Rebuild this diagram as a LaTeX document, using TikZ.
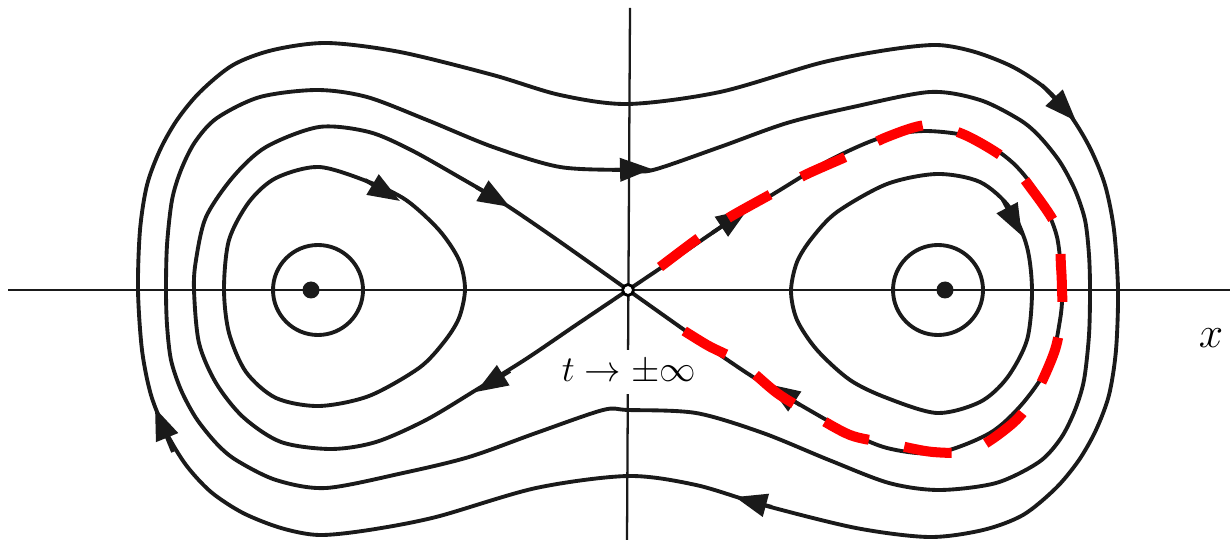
\documentclass[tikz,border=0pt]{standalone}
\usetikzlibrary{arrows.meta}
\begin{document}
\begin{tikzpicture}[x=0.02cm, y=-0.02cm]
    \definecolor{orbitColour}{HTML}{1A1A1A}
    \definecolor{loopColour}{HTML}{FF0000}
    \tikzset{
        orbit/.style={line width=2.2pt, draw=orbitColour},
        flow/.style={orbit, -{Triangle[length=0.64cm, width=0.46cm]}},
        axisline/.style={line width=1.3pt, draw=orbitColour},
        redloop/.style={line width=5.7pt, draw=loopColour, dash pattern=on 0.96cm off 0.72cm}
    }
    \useasboundingbox (0,0) rectangle (1230,540);

    % Draw axes
    \draw[axisline] (8,290) -- (1230,290);
    \draw[axisline] (630,8) -- (627,540);

    % Fixed points
    \coordinate (O) at (628,290);
    \coordinate (L) at (311,290);
    \coordinate (R) at (945,290);

    % Small orbits round the centres
    \draw[orbit] (318,290) circle (45);
    \draw[orbit] (938,290) circle (45);

    % Inner loops
    \draw[orbit] plot[smooth cycle] coordinates {(791,291) (797,262) (812,238) (837,212) (887,184) (937,174) (980,182) (1010,208) (1027,247) (1032,291) (1027,340) (1007,378) (980,402) (937,413) (887,398) (850,380) (817,350) (797,320)};
    \draw[orbit] plot[smooth cycle] coordinates {(465,289) (459,318) (444,342) (419,368) (369,396) (319,406) (276,398) (246,372) (229,333) (224,289) (229,240) (249,202) (276,178) (319,167) (369,182) (406,200) (439,230) (459,260)};

    % Homoclinic orbits
    \draw[orbit] plot[smooth] coordinates {(628,290) (680,255) (730,221) (780,190) (830,160) (880,138) (925,131) (975,138) (1013,163) (1040,197) (1057,237) (1062,290) (1060,320) (1050,363) (1023,403) (990,433) (937,453) (887,448) (845,430) (797,403) (753,377) (700,341) (628,290)};
    \draw[orbit] plot[smooth] coordinates {(628,290) (576,325) (526,359) (476,390) (426,420) (376,442) (331,449) (281,442) (243,417) (216,383) (199,343) (194,290) (196,260) (206,217) (233,177) (266,147) (319,127) (369,132) (411,150) (459,177) (503,203) (556,239) (628,290)};

    % Outer orbits
    \draw[orbit] plot[smooth cycle] coordinates {(166,290) (167,245) (172,200) (181,170) (195,142) (217,118) (260,97) (317,90) (367,97) (427,120) (493,147) (560,167) (628,170) (653,170) (720,147) (787,123) (853,107) (930,92) (980,100) (1020,120) (1040,137) (1060,162) (1075,190) (1085,220) (1089,255) (1090,290) (1089,335) (1084,380) (1075,410) (1061,438) (1039,462) (996,483) (939,490) (889,483) (829,460) (763,433) (696,413) (628,410) (603,410) (536,433) (469,457) (403,473) (326,488) (276,480) (236,460) (216,443) (196,418) (181,390) (171,360) (167,325)};
    \draw[orbit] plot[smooth cycle] coordinates {(138,290) (140,230) (147,185) (160,150) (177,120) (200,92) (233,65) (273,50) (327,43) (400,52) (493,75) (560,95) (628,104) (720,92) (820,63) (887,50) (937,45) (975,52) (1013,67) (1045,88) (1070,115) (1090,148) (1105,185) (1114,230) (1118,290) (1116,350) (1109,395) (1096,430) (1079,460) (1056,488) (1023,515) (983,530) (929,537) (856,528) (763,505) (696,485) (628,476) (536,488) (436,517) (369,530) (319,535) (281,528) (243,513) (211,492) (186,465) (166,432) (151,395) (142,350)};

    % Direction of flow
    \draw[flow] (1042,85) -- (1076,121);
    \draw[flow] (173,452) -- (155,408);
    \draw[flow] (772,507) -- (735,497);
    \draw[flow] (612,170) -- (652,169);
    \draw[flow] (476,187) -- (510,207);
    \draw[flow] (510,371) -- (476,392);
    \draw[flow] (712,233) -- (748,209);
    \draw[flow] (800,405) -- (768,384);
    \draw[flow] (365,180) -- (400,201);
    \draw[flow] (1003,200) -- (1022,236);

    % Marked loop
    \draw[redloop] plot[smooth] coordinates {(660,267) (700,237) (730,217) (773,193) (805,175) (850,155) (887,137) (927,125) (965,135) (1007,160) (1030,187) (1057,228) (1061,267) (1062,290) (1062,312) (1055,350) (1035,395) (1013,423) (973,450) (933,452) (887,443) (850,435) (810,413) (777,393) (740,362) (707,345) (667,320)};

    % Centres and saddle
    \fill[orbitColour] (L) circle (8.5);
    \fill[orbitColour] (R) circle (8.5);
    \draw[line width=1.6pt, fill=white] (O) circle (5.5);

    % Labels
    \node[fill=white, inner sep=0pt, minimum width=2.96cm, minimum height=0.9cm, font=\fontsize{22}{26}\selectfont] (limit) at (629,372) {$t \to \pm\infty$};
    \node[font=\fontsize{40}{40}\selectfont] (xlabel) at (1211,338) {$x$};
\end{tikzpicture}
\end{document}
